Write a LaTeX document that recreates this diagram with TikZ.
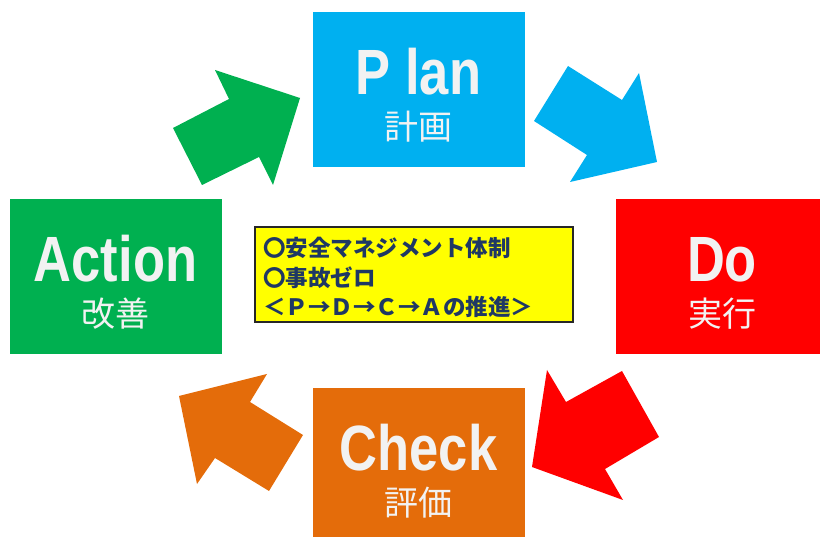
\documentclass[tikz,border=0pt]{standalone}
\usepackage{fontspec}
\usepackage{tikz}
\usetikzlibrary{calc}

\newfontfamily\jpfont{Noto Sans CJK JP}
\newfontfamily\headfont[FakeStretch=0.82]{Liberation Sans}

\definecolor{planblue}{RGB}{0,176,240}
\definecolor{dored}{RGB}{255,0,0}
\definecolor{checkorange}{RGB}{228,108,10}
\definecolor{actgreen}{RGB}{0,176,80}
\definecolor{goalyellow}{RGB}{255,255,0}
\definecolor{goalink}{RGB}{31,56,100}
\definecolor{softwhite}{RGB}{242,242,242}

\begin{document}
\begin{tikzpicture}[x=1pt, y=-1pt,
    stagebox/.style={rectangle, inner sep=0pt, minimum width=212pt, minimum height=155pt},
    head/.style={anchor=base, inner sep=0pt, text=softwhite, font=\headfont\bfseries\fontsize{64}{64}\selectfont},
    sub/.style={inner sep=0pt, text=softwhite, font=\jpfont\fontsize{34}{34}\selectfont},
    goalbox/.style={rectangle, fill=goalyellow, draw=black!85, line width=1.5pt,
        text width=302pt, inner xsep=8pt, minimum height=95pt, align=left,
        text=goalink, font=\jpfont\bfseries\fontsize{22.5}{29.5}\selectfont}]
    \clip (0,0) rectangle (820,537);

    % stages
    \node[stagebox, fill=planblue] (plan) at (418.5,89.5) {};
    \node[stagebox, fill=dored] (do) at (722,276.5) {};
    \node[stagebox, fill=checkorange] (check) at (418.5,465.5) {};
    \node[stagebox, fill=actgreen] (action) at (115.5,276.5) {};

    \node[head] (plan-t) at ([yshift=-5.5pt]plan.center) {P lan};
    \node[sub] (plan-s) at ([yshift=-37.5pt]plan.center) {計画};
    \node[head] (do-t) at ([yshift=-5.5pt]do.center) {Do};
    \node[sub] (do-s) at ([yshift=-37.5pt]do.center) {実行};
    \node[head] (check-t) at ([yshift=-5.5pt]check.center) {Check};
    \node[sub] (check-s) at ([yshift=-37.5pt]check.center) {評価};
    \node[head] (action-t) at ([yshift=-5.5pt]action.center) {Action};
    \node[sub] (action-s) at ([yshift=-37.5pt]action.center) {改善};

    % block arrows
    \fill[planblue] (568,66) -- (622,100) -- (639,73) -- (657,162) -- (570,182) -- (587,155) -- (534,121) -- cycle;
    \fill[dored] (547,370) -- (566,402) -- (622,371) -- (659,437) -- (605,469) -- (623,500) -- (532,467) -- cycle;
    \fill[checkorange] (179,396) -- (267,374) -- (250,402) -- (303,435) -- (269,491) -- (215,458) -- (197,484) -- cycle;
    \fill[actgreen] (173,128) -- (229,99) -- (215,70) -- (300,98) -- (273,185) -- (259,157) -- (202,185) -- cycle;

    % goal
    \node[goalbox, minimum height=95pt] (goal) at (414,274.5) {};
    \node[goalbox, draw=none, fill=none] (goal-t) at ([yshift=-3pt]goal.center) {〇安全マネジメント体制\\〇事故ゼロ\\＜Ｐ→Ｄ→Ｃ→Ａの推進＞};
\end{tikzpicture}
\end{document}
